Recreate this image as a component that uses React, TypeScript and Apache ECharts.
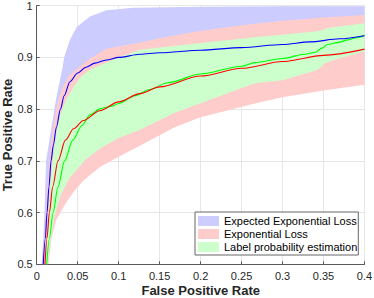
import React, { useEffect, useRef } from "react";
import * as echarts from "echarts";

type Pt = [number, number];

// Mean curves
const expectedExpMean: Pt[] = [
  [0.008, 0.5], [0.0105, 0.55], [0.0126, 0.6], [0.015, 0.65], [0.0175, 0.7],
  [0.0203, 0.73], [0.024, 0.765], [0.029, 0.8], [0.0335, 0.826], [0.0406, 0.853],
  [0.05, 0.87], [0.06, 0.881], [0.071, 0.889], [0.085, 0.895], [0.1, 0.9],
  [0.126, 0.906], [0.15, 0.909], [0.2, 0.914], [0.25, 0.919], [0.3, 0.925],
  [0.333, 0.93], [0.37, 0.936], [0.4, 0.942],
];
const expLossMean: Pt[] = [
  [0.0101, 0.5], [0.0125, 0.55], [0.0155, 0.6], [0.0195, 0.65], [0.026, 0.7],
  [0.035, 0.74], [0.045, 0.762], [0.057, 0.778], [0.077, 0.797], [0.1, 0.814],
  [0.126, 0.83], [0.15, 0.843], [0.2, 0.864], [0.25, 0.879], [0.3, 0.892],
  [0.35, 0.904], [0.4, 0.916],
];
const labelProbMean: Pt[] = [
  [0.0122, 0.5], [0.0155, 0.55], [0.02, 0.6], [0.026, 0.65], [0.034, 0.7],
  [0.044, 0.74], [0.055, 0.768], [0.065, 0.789], [0.078, 0.801], [0.09, 0.805],
  [0.1, 0.811], [0.12, 0.826], [0.138, 0.838], [0.16, 0.851], [0.2, 0.868],
  [0.25, 0.883], [0.266, 0.89], [0.3, 0.898], [0.327, 0.906], [0.34, 0.91],
  [0.348, 0.918], [0.355, 0.925], [0.368, 0.929], [0.38, 0.934], [0.39, 0.938], [0.4, 0.943],
];

// Band boundaries
const expectedExpUpper: Pt[] = [
  [0.006, 0.5], [0.008, 0.55], [0.0095, 0.6], [0.0105, 0.65], [0.0115, 0.7],
  [0.0145, 0.73], [0.018, 0.765], [0.0235, 0.818], [0.0317, 0.882], [0.0335, 0.9],
  [0.0406, 0.934], [0.0488, 0.959], [0.065, 0.979], [0.085, 0.991], [0.118, 0.996],
  [0.2, 0.998], [0.3, 0.999], [0.4, 0.999],
];
const expectedExpLower: Pt[] = [
  [0.012, 0.5], [0.02, 0.7], [0.04, 0.83], [0.1, 0.88], [0.4, 0.92],
];
const expLossUpper: Pt[] = [
  [0.0072, 0.5], [0.0092, 0.55], [0.011, 0.6], [0.013, 0.65], [0.0155, 0.7],
  [0.0195, 0.76], [0.025, 0.81], [0.031, 0.84], [0.039, 0.864], [0.05, 0.879],
  [0.065, 0.898], [0.085, 0.917], [0.126, 0.929], [0.15, 0.937], [0.195, 0.95],
  [0.25, 0.962], [0.3, 0.971], [0.35, 0.977], [0.4, 0.982],
];
const expLossLower: Pt[] = [
  [0.0145, 0.5], [0.018, 0.55], [0.0236, 0.585], [0.03, 0.603], [0.037, 0.622],
  [0.045, 0.64], [0.057, 0.662], [0.077, 0.688], [0.1, 0.708], [0.126, 0.729],
  [0.167, 0.764], [0.199, 0.784], [0.266, 0.811], [0.3, 0.823], [0.35, 0.836], [0.4, 0.847],
];
const labelProbUpper: Pt[] = [
  [0.0105, 0.5], [0.0125, 0.55], [0.0145, 0.6], [0.0165, 0.65], [0.0195, 0.7],
  [0.0235, 0.75], [0.029, 0.79], [0.036, 0.818], [0.0447, 0.842], [0.053, 0.861],
  [0.065, 0.876], [0.085, 0.89], [0.1, 0.9], [0.126, 0.915], [0.195, 0.927],
  [0.266, 0.939], [0.3, 0.944], [0.345, 0.951], [0.355, 0.957], [0.4, 0.966],
];
const labelProbLower: Pt[] = [
  [0.0135, 0.5], [0.017, 0.55], [0.021, 0.585], [0.0236, 0.605], [0.0296, 0.635],
  [0.04, 0.667], [0.06, 0.703], [0.08, 0.727], [0.1, 0.744], [0.126, 0.76],
  [0.167, 0.792], [0.199, 0.811], [0.266, 0.85], [0.3, 0.856], [0.343, 0.876],
  [0.352, 0.889], [0.368, 0.898], [0.388, 0.906], [0.4, 0.912],
];

const legendNames = [
  "Expected Exponential Loss",
  "Exponential Loss",
  "Label probability estimation",
];
const xAxisTitle = "False Positive Rate";
const yAxisTitle = "True Positive Rate";
const bandColors = ["#ccccff", "#ffcccc", "#ccffcc"];
const lineColors = ["#0000ff", "#ff0000", "#00ff00"];

const FONT = "'Liberation Sans', Arial, Helvetica, sans-serif";

function bandSeries(name: string, upper: Pt[], lower: Pt[], color: string) {
  const poly: Pt[] = [...upper, ...lower.slice().reverse()];
  return {
    type: "custom",
    name,
    coordinateSystem: "cartesian2d",
    data: poly,
    encode: { x: 0, y: 1 },
    clip: true,
    silent: true,
    itemStyle: { color },
    renderItem: (params: any, api: any) => {
      if (params.dataIndex !== 0) return null;
      const pts = poly.map((p) => api.coord(p));
      return {
        type: "polygon",
        shape: { points: pts },
        style: { fill: color, stroke: null },
      };
    },
  };
}

function lineSeries(name: string, data: Pt[], color: string, z: number) {
  return {
    type: "line",
    name,
    data,
    showSymbol: false,
    smooth: 0.3,
    smoothMonotone: "x",
    clip: true,
    silent: true,
    z,
    lineStyle: { color, width: 1.1 },
    itemStyle: { color },
  };
}

export default function App() {
  const ref = useRef<HTMLDivElement>(null);
  useEffect(() => {
    if (!ref.current) return;
    const chart = echarts.init(ref.current, undefined, { renderer: "svg" });
    const axisColor = "#5a5a5a";
    const textColor = "#262626";
    chart.setOption({
      animation: false,
      backgroundColor: "#ffffff",
      grid: {
        left: 36.7,
        right: 9.5,
        top: 5.7,
        bottom: 33.7,
        containLabel: false,
        outerBoundsMode: "none",
      },
      xAxis: {
        type: "value",
        min: 0,
        max: 0.4,
        interval: 0.05,
        axisLine: { show: true, onZero: false, lineStyle: { color: axisColor, width: 1 } },
        axisTick: { show: true, inside: true, length: 3, lineStyle: { color: axisColor } },
        axisLabel: {
          margin: 6,
          fontSize: 11,
          color: textColor,
          fontFamily: FONT,
          formatter: (v: number) => String(parseFloat(v.toFixed(2))),
        },
        splitLine: { show: true, lineStyle: { color: "#e6e6e6", width: 1 } },
      },
      yAxis: {
        type: "value",
        min: 0.5,
        max: 1,
        interval: 0.1,
        axisLine: { show: true, onZero: false, lineStyle: { color: axisColor, width: 1 } },
        axisTick: { show: true, inside: true, length: 3, lineStyle: { color: axisColor } },
        axisLabel: {
          margin: 4,
          fontSize: 11,
          color: textColor,
          fontFamily: FONT,
          formatter: (v: number) => String(parseFloat(v.toFixed(2))),
        },
        splitLine: { show: true, lineStyle: { color: "#e6e6e6", width: 1 } },
      },
      graphic: [
        {
          type: "text",
          x: 200.7,
          y: 290.5,
          silent: true,
          style: {
            text: xAxisTitle,
            fontSize: 13,
            fontWeight: "bold",
            fontFamily: FONT,
            fill: textColor,
            align: "center",
            verticalAlign: "middle",
          },
        },
        {
          type: "text",
          x: 7.6,
          y: 135,
          rotation: Math.PI / 2,
          silent: true,
          style: {
            text: yAxisTitle,
            fontSize: 13,
            fontWeight: "bold",
            fontFamily: FONT,
            fill: textColor,
            align: "center",
            verticalAlign: "middle",
          },
        },
      ],
      legend: {
        orient: "vertical",
        left: 195,
        top: 212,
        itemWidth: 21,
        itemHeight: 10,
        itemGap: 1,
        icon: "rect",
        backgroundColor: "#ffffff",
        borderColor: "#666666",
        borderWidth: 1,
        borderRadius: 0,
        padding: [3, 1, 2, 3],
        selectedMode: false,
        textStyle: { fontSize: 11, color: "#000", fontFamily: FONT, lineHeight: 12 },
        data: legendNames,
      },
      series: [
        bandSeries(legendNames[0], expectedExpUpper, expectedExpLower, bandColors[0]),
        bandSeries(legendNames[1], expLossUpper, expLossLower, bandColors[1]),
        bandSeries(legendNames[2], labelProbUpper, labelProbLower, bandColors[2]),
        lineSeries("Label probability mean", labelProbMean, lineColors[2], 3),
        lineSeries("Exponential Loss mean", expLossMean, lineColors[1], 4),
        lineSeries("Expected Exponential Loss mean", expectedExpMean, lineColors[0], 5),
      ],
    });
    return () => chart.dispose();
  }, []);
  return (
    <div
      ref={ref}
      style={{ position: "fixed", left: 0, top: 0, width: 374, height: 298 }}
    />
  );
}
